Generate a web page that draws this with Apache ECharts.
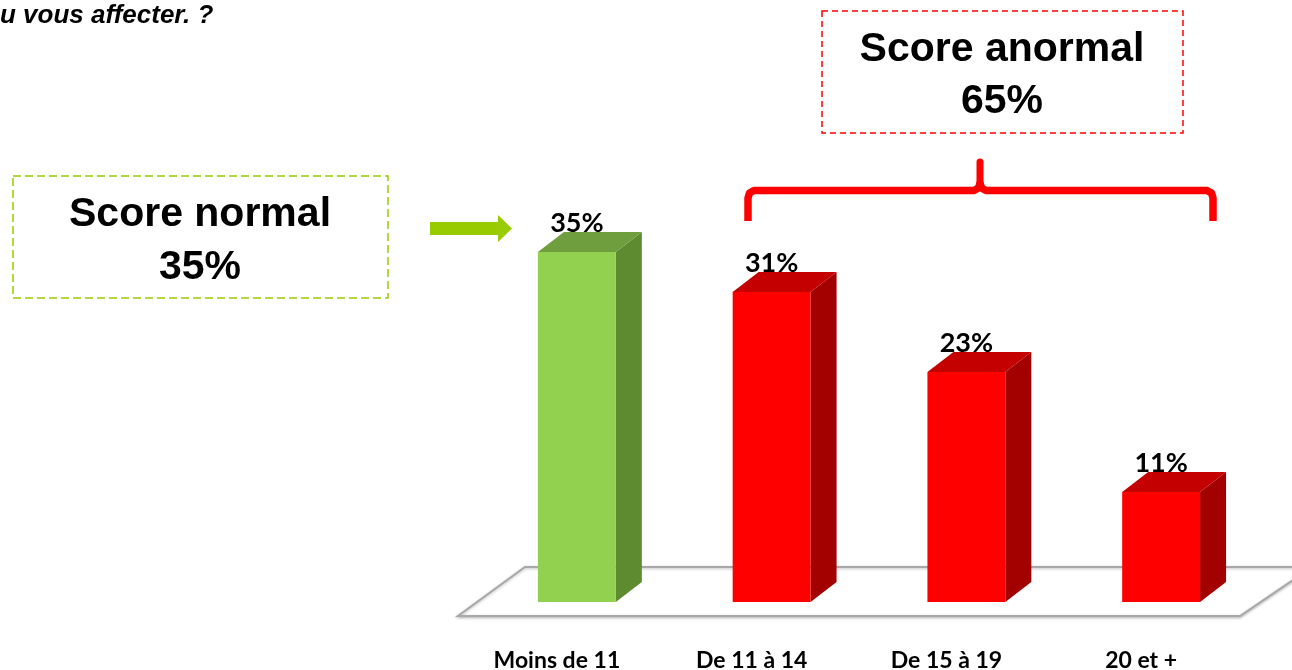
<!DOCTYPE html>
<html>
<head>
<meta charset="utf-8">
<script src="https://cdn.jsdelivr.net/npm/echarts@6/dist/echarts.min.js"></script>
<style>
  html, body { margin: 0; padding: 0; background: #ffffff; }
  #chart { width: 1292px; height: 670px; }
</style>
</head>
<body>
<div id="chart"></div>
<script>
// ---- data ----
const categories = ['Moins de 11', 'De 11 à 14', 'De 15 à 19', '20 et +'];
const values = [35, 31, 23, 11];
const groups = ['normal', 'anormal', 'anormal', 'anormal'];
const normalLabel = ['Score normal', '35%'];
const anormalLabel = ['Score anormal', '65%'];
const titleText = 'u vous affecter. ?';

// ---- styles ----
const palette = {
  normal:  { front: '#92d050', side: '#5e8a30', top: '#6f9e3e' },
  anormal: { front: '#ff0000', side: '#a30000', top: '#c40000' }
};

const seriesData = values.map((v, i) => [i, v]);

const chart = echarts.init(document.getElementById('chart'));

function renderBar(params, api) {
  const idx = api.value(0);
  const val = api.value(1);
  const top = api.coord([idx, val]);
  const base = api.coord([idx, 0]);
  const band = api.size([1, 0])[0];
  const bw = band * 0.4;
  const dx = 26, dy = -20;
  const x0 = top[0] - bw / 2, x1 = top[0] + bw / 2;
  const yT = top[1], yB = base[1];
  const c = palette[groups[idx]];
  return {
    type: 'group',
    children: [
      { type: 'polygon', shape: { points: [[x1, yT], [x1 + dx, yT + dy], [x1 + dx, yB + dy], [x1, yB]] },
        style: { fill: c.side } },
      { type: 'polygon', shape: { points: [[x0, yT], [x0 + dx, yT + dy], [x1 + dx, yT + dy], [x1, yT]] },
        style: { fill: c.top } },
      { type: 'rect', shape: { x: x0, y: yT, width: bw, height: yB - yT },
        style: { fill: c.front } },
      { type: 'text', x: top[0], y: yT + dy + 5,
        style: { text: val + '%', fontFamily: 'Lato', fontWeight: 'bold', fontSize: 27,
                 fill: '#000', align: 'center', verticalAlign: 'bottom' } }
    ]
  };
}

const option = {
  animation: false,
  backgroundColor: '#ffffff',
  grid: { left: 479.5, right: 33.5, top: 202, bottom: 68, outerBoundsMode: 'none', containLabel: false },
  xAxis: {
    type: 'category',
    data: categories,
    axisLine: { show: false },
    axisTick: { show: false },
    splitLine: { show: false },
    axisLabel: {
      margin: 47,
      fontFamily: 'Lato', fontWeight: 'bold', fontSize: 23, color: '#000',
      padding: [0, 40, 0, 0],
      interval: 0
    }
  },
  yAxis: { type: 'value', min: 0, max: 40, show: false, splitLine: { show: false } },
  graphic: [
    // floor
    { type: 'polygon', z: 0,
      shape: { points: [[525, 567], [1312, 567], [1240, 616], [458, 616]] },
      style: { fill: '#ffffff', stroke: '#a8a8a8', lineWidth: 2,
               shadowBlur: 3, shadowColor: 'rgba(0,0,0,0.25)', shadowOffsetY: 1 } },
    // title fragment
    { type: 'text', left: 0, top: 3,
      style: { text: titleText, fontFamily: 'Liberation Sans', fontWeight: 'bold', fontStyle: 'italic',
               fontSize: 26, fill: '#000' } },
    // normal box
    { type: 'rect', shape: { x: 13, y: 176, width: 375, height: 122 },
      style: { fill: 'none', stroke: '#99cc00', lineWidth: 1.5, lineDash: [8, 4] } },
    { type: 'text', x: 200, y: 241,
      style: { text: normalLabel.join('\n'), fontFamily: 'Liberation Sans', fontWeight: 'bold',
               fontSize: 41, lineHeight: 53, fill: '#000', align: 'center', verticalAlign: 'middle' } },
    // anormal box
    { type: 'rect', shape: { x: 822, y: 11, width: 361, height: 122 },
      style: { fill: 'none', stroke: '#ff0000', lineWidth: 1.5, lineDash: [6, 4] } },
    { type: 'text', x: 1002, y: 76,
      style: { text: anormalLabel.join('\n'), fontFamily: 'Liberation Sans', fontWeight: 'bold',
               fontSize: 41, lineHeight: 52, fill: '#000', align: 'center', verticalAlign: 'middle' } },
    // green arrow
    { type: 'polygon',
      shape: { points: [[430, 222], [498, 222], [498, 215], [512, 228.5], [498, 242], [498, 235], [430, 235]] },
      style: { fill: '#99cc00' } },
    // red brace
    { type: 'polyline',
      shape: { points: [[748, 221], [748, 198], [749.5, 193], [754, 190.5], [974, 190.5], [978.5, 188], [980, 183],
                        [981.5, 188], [986, 190.5], [1207, 190.5], [1211.5, 193], [1213, 198], [1213, 221]] },
      style: { fill: 'none', stroke: '#ff0000', lineWidth: 7.5, lineJoin: 'round' } },
    { type: 'line', shape: { x1: 980, y1: 186, x2: 980, y2: 162 },
      style: { stroke: '#ff0000', lineWidth: 7, lineCap: 'round' } }
  ],
  series: [{
    type: 'custom',
    z: 5,
    renderItem: renderBar,
    encode: { x: 0, y: 1 },
    data: seriesData
  }]
};

chart.setOption(option);
</script>
</body>
</html>
